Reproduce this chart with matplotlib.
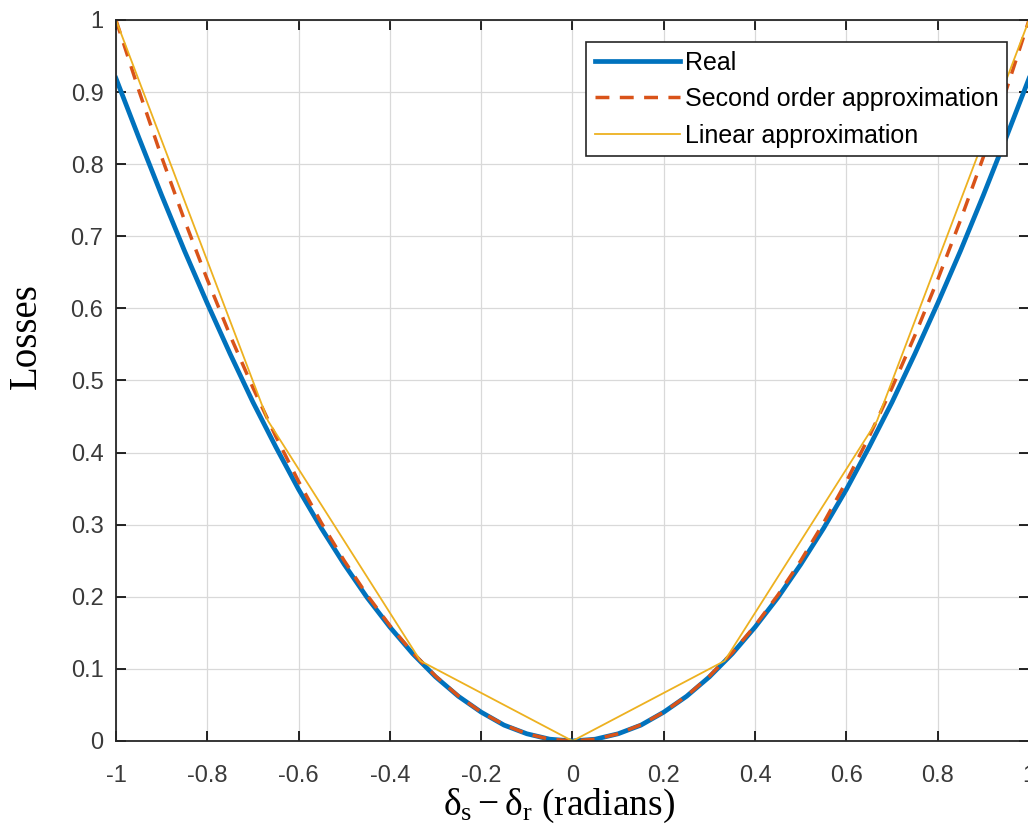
import matplotlib
matplotlib.use("Agg")
import matplotlib.pyplot as plt

# losses vs angle difference
x_curve = [-1.0, -0.95, -0.9, -0.85, -0.8, -0.75, -0.7, -0.65, -0.6, -0.55, -0.5,
           -0.45, -0.4, -0.35, -0.3, -0.25, -0.2, -0.15, -0.1, -0.05, 0.0,
           0.05, 0.1, 0.15, 0.2, 0.25, 0.3, 0.35, 0.4, 0.45, 0.5,
           0.55, 0.6, 0.65, 0.7, 0.75, 0.8, 0.85, 0.9, 0.95, 1.0]
real = [0.919, 0.837, 0.757, 0.680, 0.607, 0.537, 0.470, 0.408, 0.349, 0.295, 0.245,
        0.199, 0.158, 0.121, 0.089, 0.062, 0.040, 0.022, 0.010, 0.0025, 0.0,
        0.0025, 0.010, 0.022, 0.040, 0.062, 0.089, 0.121, 0.158, 0.199, 0.245,
        0.295, 0.349, 0.408, 0.470, 0.537, 0.607, 0.680, 0.757, 0.837, 0.919]
second_order = [1.0, 0.9025, 0.81, 0.7225, 0.64, 0.5625, 0.49, 0.4225, 0.36, 0.3025, 0.25,
                0.2025, 0.16, 0.1225, 0.09, 0.0625, 0.04, 0.0225, 0.01, 0.0025, 0.0,
                0.0025, 0.01, 0.0225, 0.04, 0.0625, 0.09, 0.1225, 0.16, 0.2025, 0.25,
                0.3025, 0.36, 0.4225, 0.49, 0.5625, 0.64, 0.7225, 0.81, 0.9025, 1.0]
x_linear = [-1.0, -0.667, -0.333, 0.0, 0.333, 0.667, 1.0]
linear = [1.0, 0.444, 0.111, 0.0, 0.111, 0.444, 1.0]

xticks = [-1, -0.8, -0.6, -0.4, -0.2, 0, 0.2, 0.4, 0.6, 0.8, 1]
yticks = [0, 0.1, 0.2, 0.3, 0.4, 0.5, 0.6, 0.7, 0.8, 0.9, 1]

plt.rcParams['font.family'] = ['Liberation Sans', 'DejaVu Sans']
plt.rcParams['mathtext.fontset'] = 'custom'
plt.rcParams['mathtext.rm'] = 'Liberation Serif'
plt.rcParams['mathtext.it'] = 'Liberation Serif'

fig = plt.figure(figsize=(10.28, 8.32), dpi=100)
ax = fig.add_axes([0.1128, 0.1094, 0.8882, 0.8666])

ax.plot(x_curve, real, color='#0072BD', lw=3.4, label='Real')
ax.plot(x_curve, second_order, color='#D95319', lw=2.5, ls=(0, (4, 3)),
        label='Second order approximation')
ax.plot(x_linear, linear, color='#EDB120', lw=1.3, label='Linear approximation')

ax.set_xlim(-1, 1)
ax.set_ylim(0, 1)
ax.set_xticks(xticks)
ax.set_yticks(yticks)
ax.set_xticklabels(['%g' % t for t in xticks])
ax.set_yticklabels(['%g' % t for t in yticks])
ax.tick_params(direction='in', length=7, width=1.2, labelsize=17,
               labelcolor='#3a3a3a', top=True, right=True)
ax.tick_params(axis='x', pad=17)
ax.tick_params(axis='y', pad=9)
ax.grid(True, color='#d9d9d9', lw=0.9)
ax.set_axisbelow(True)
for s in ax.spines.values():
    s.set_linewidth(1.3)
    s.set_color('#262626')

ax.set_ylabel('Losses', family='Liberation Serif', fontsize=28)
ax.yaxis.set_label_coords(-0.078, 0.562)
ax.set_xlabel(r'$δ_{\rm s} - δ_{\rm r}$ (radians)', family='Liberation Serif',
              fontsize=27)
ax.xaxis.set_label_coords(0.485, -0.064)

leg = ax.legend(loc='upper right', bbox_to_anchor=(0.976, 0.9695), fontsize=18,
                fancybox=False, framealpha=1, edgecolor='#262626',
                handlelength=3.4, borderpad=0.35, labelspacing=0.5,
                handletextpad=0.2, borderaxespad=0)
leg.get_frame().set_linewidth(1.2)

fig.savefig('out.png', dpi=100)
